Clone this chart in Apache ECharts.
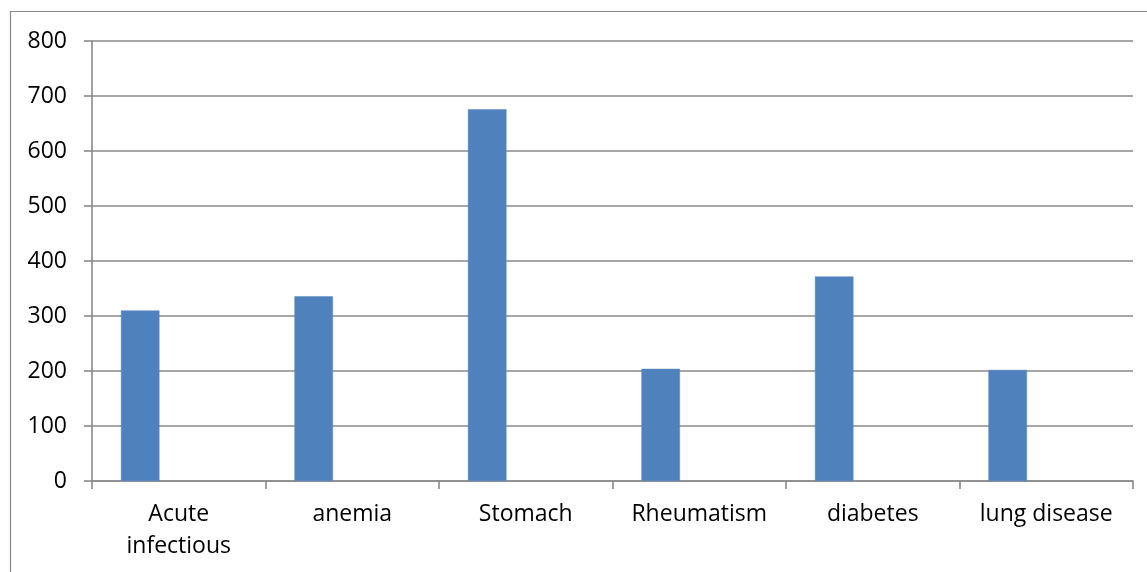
<!DOCTYPE html>
<html>
<head>
<meta charset="utf-8">
<script src="https://cdn.jsdelivr.net/npm/echarts@6/dist/echarts.min.js"></script>
<style>
  html, body { margin: 0; padding: 0; background: #fff; }
  #chart { width: 1147px; height: 572px; }
</style>
</head>
<body>
<div id="chart"></div>
<script>
const categories = ['Acute\ninfectious', 'anemia', 'Stomach', 'Rheumatism', 'diabetes', 'lung disease'];
const values = [310, 336, 676, 204, 372, 202];
const emptySeriesA = [null, null, null, null, null, null];
const emptySeriesB = [null, null, null, null, null, null];
const yTicks = { min: 0, max: 800, interval: 100 };

const gray = '#8a8a8a';
const font = '"Open Sans", "Noto Sans", sans-serif';

const chart = echarts.init(document.getElementById('chart'), null, { renderer: 'canvas' });
chart.setOption({
  animation: false,
  backgroundColor: '#fff',
  graphic: [{
    type: 'rect',
    shape: { x: 10.5, y: 11.5, width: 1200, height: 700 },
    style: { fill: 'none', stroke: gray, lineWidth: 1.2 },
    silent: true
  }],
  grid: { left: 92, right: 14, top: 41, bottom: 91 },
  xAxis: {
    type: 'category',
    data: categories,
    boundaryGap: true,
    axisLine: { show: true, lineStyle: { color: gray, width: 1.6 } },
    axisTick: { show: true, length: 8, inside: false, lineStyle: { color: gray, width: 1.6 } },
    axisLabel: {
      color: '#000', fontFamily: font, fontSize: 23, margin: 17, lineHeight: 32, interval: 0
    }
  },
  yAxis: {
    type: 'value',
    min: yTicks.min, max: yTicks.max, interval: yTicks.interval,
    axisLine: { show: true, lineStyle: { color: gray, width: 1.6 } },
    axisTick: { show: true, length: 8, inside: false, lineStyle: { color: gray, width: 1.6 } },
    splitLine: { show: true, lineStyle: { color: gray, width: 1.6 } },
    axisLabel: { color: '#000', fontFamily: font, fontSize: 23, margin: 25 }
  },
  series: [
    {
      type: 'bar', data: values, barGap: '0%', barCategoryGap: '33.33%',
      itemStyle: { color: '#4F81BD', borderColor: '#5b8cc6', borderWidth: 0.5 }
    },
    { type: 'bar', data: emptySeriesA, barGap: '0%', barCategoryGap: '33.33%' },
    { type: 'bar', data: emptySeriesB, barGap: '0%', barCategoryGap: '33.33%' }
  ]
});
</script>
</body>
</html>
